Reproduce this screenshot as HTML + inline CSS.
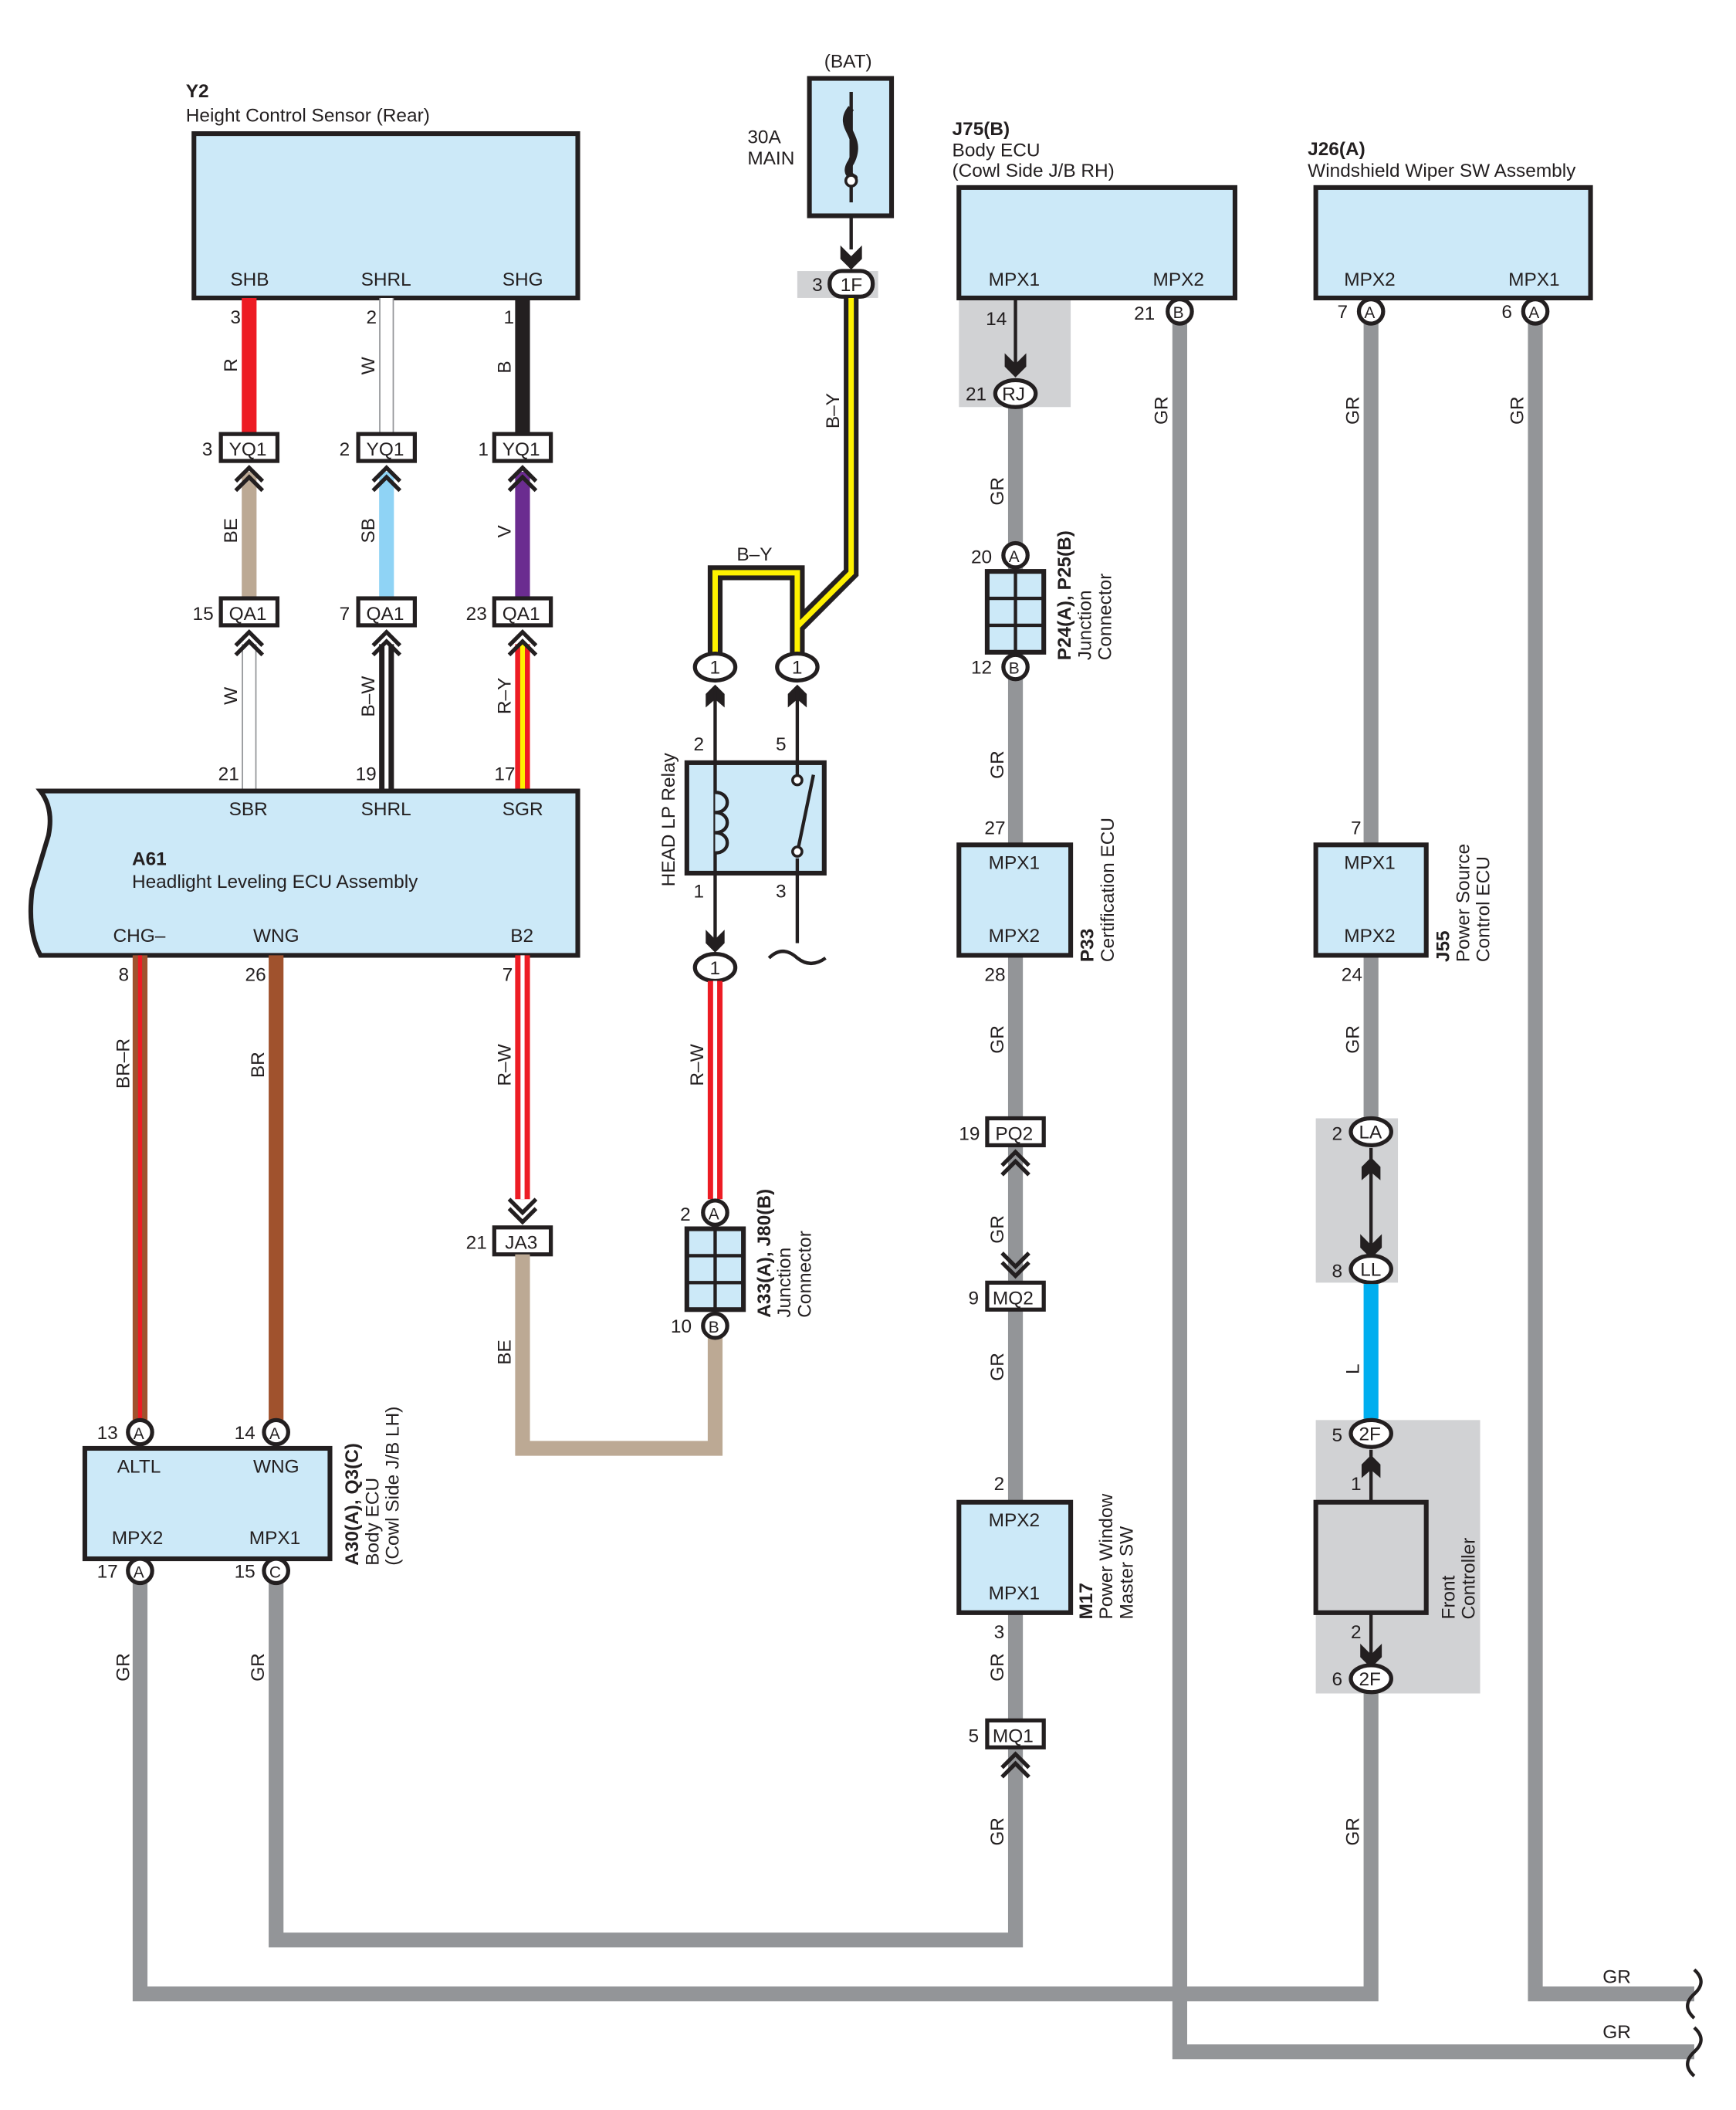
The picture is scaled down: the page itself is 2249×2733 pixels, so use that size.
<!DOCTYPE html>
<html><head><meta charset="utf-8"><style>
html,body{margin:0;padding:0;background:#fff}
svg{display:block}
text{font-family:"Liberation Sans",sans-serif;font-size:14px;fill:#231f20}
.b{font-weight:bold}
.box{fill:#cce9f8;stroke:#231f20;stroke-width:3.5}
.cn{fill:#fff;stroke:#231f20;stroke-width:3}
.gr{stroke:#939598;stroke-width:11;fill:none}
.ch{fill:none;stroke:#231f20;stroke-width:3}
</style></head><body>
<svg width="2249" height="2733" viewBox="0 0 1289 1566" xmlns="http://www.w3.org/2000/svg">
<!-- gray regions -->
<rect x="592" y="201" width="60" height="20" fill="#d1d2d4"/>
<rect x="712" y="221" width="83" height="81" fill="#d1d2d4"/>
<rect x="977" y="830" width="61" height="122" fill="#d1d2d4"/>
<rect x="977" y="1054" width="122" height="203" fill="#d1d2d4"/>

<!-- GR wires -->
<path class="gr" d="M754 300V1440H205V1170"/>
<path class="gr" d="M876 238V1523H1258"/>
<path class="gr" d="M104 1170V1480H1018V1250"/>
<path class="gr" d="M1018 238V835"/>
<path class="gr" d="M1140 238V1480H1258"/>
<path d="M1258 1462q10 9 0 18q-10 9 0 18" fill="none" stroke="#231f20" stroke-width="2.5"/>
<path d="M1258 1505q10 9 0 18q-10 9 0 18" fill="none" stroke="#231f20" stroke-width="2.5"/>
<text x="1190" y="1472">GR</text><text x="1190" y="1513">GR</text>

<!-- Y2 -->
<text x="138" y="72" class="b">Y2</text>
<text x="138" y="90">Height Control Sensor (Rear)</text>
<rect class="box" x="144" y="99" width="285" height="122"/>
<text x="171" y="212">SHB</text><text x="268" y="212">SHRL</text><text x="373" y="212">SHG</text>
<!-- wires top -->
<line x1="185" y1="221" x2="185" y2="322" stroke="#ed1c24" stroke-width="11"/>
<line x1="287" y1="221" x2="287" y2="322" stroke="#939598" stroke-width="11"/>
<line x1="287" y1="221" x2="287" y2="322" stroke="#fff" stroke-width="9"/>
<line x1="388" y1="221" x2="388" y2="322" stroke="#231f20" stroke-width="11"/>
<text x="171" y="240">3</text><text x="272" y="240">2</text><text x="374" y="240">1</text>
<text transform="translate(176,276) rotate(-90)">R</text>
<text transform="translate(278,278) rotate(-90)">W</text>
<text transform="translate(379,277) rotate(-90)">B</text>
<!-- middle wires -->
<line x1="185" y1="350" x2="185" y2="443" stroke="#bca994" stroke-width="11"/>
<line x1="287" y1="350" x2="287" y2="443" stroke="#8fd3f5" stroke-width="11"/>
<line x1="388" y1="350" x2="388" y2="443" stroke="#6b2c90" stroke-width="11"/>
<text transform="translate(176,403) rotate(-90)">BE</text>
<text transform="translate(278,403) rotate(-90)">SB</text>
<text transform="translate(379,399) rotate(-90)">V</text>
<!-- lower wires -->
<line x1="185" y1="478" x2="185" y2="587" stroke="#939598" stroke-width="11"/>
<line x1="185" y1="478" x2="185" y2="587" stroke="#fff" stroke-width="9"/>
<line x1="287" y1="478" x2="287" y2="587" stroke="#231f20" stroke-width="11"/>
<line x1="287" y1="478" x2="287" y2="587" stroke="#fff" stroke-width="3"/>
<line x1="388" y1="478" x2="388" y2="587" stroke="#ed1c24" stroke-width="11"/>
<line x1="388" y1="478" x2="388" y2="587" stroke="#fff200" stroke-width="3.5"/>
<text transform="translate(176,523) rotate(-90)">W</text>
<text transform="translate(278,532) rotate(-90)">B–W</text>
<text transform="translate(379,530) rotate(-90)">R–Y</text>
<text x="162" y="579">21</text><text x="264" y="579">19</text><text x="367" y="579">17</text>
<!-- YQ1/QA1 connectors -->
<g>
<rect class="cn" x="164" y="322" width="42" height="20"/><text x="170" y="338">YQ1</text><text x="150" y="338">3</text>
<rect class="cn" x="266" y="322" width="42" height="20"/><text x="272" y="338">YQ1</text><text x="252" y="338">2</text>
<rect class="cn" x="367" y="322" width="42" height="20"/><text x="373" y="338">YQ1</text><text x="355" y="338">1</text>
<rect class="cn" x="164" y="444" width="42" height="20"/><text x="170" y="460">QA1</text><text x="143" y="460">15</text>
<rect class="cn" x="266" y="444" width="42" height="20"/><text x="272" y="460">QA1</text><text x="252" y="460">7</text>
<rect class="cn" x="367" y="444" width="42" height="20"/><text x="373" y="460">QA1</text><text x="346" y="460">23</text>
</g>
<g class="ch">
<path d="M175 357l10-10l10 10M175 364l10-10l10 10"/>
<path d="M277 357l10-10l10 10M277 364l10-10l10 10"/>
<path d="M378 357l10-10l10 10M378 364l10-10l10 10"/>
<path d="M175 479l10-10l10 10M175 486l10-10l10 10"/>
<path d="M277 479l10-10l10 10M277 486l10-10l10 10"/>
<path d="M378 479l10-10l10 10M378 486l10-10l10 10"/>
</g>

<!-- A61 -->
<path class="box" d="M30 587H429V709H30Q20 690 24 660Q30 640 36 620Q40 600 30 587Z"/>
<text x="170" y="605">SBR</text><text x="268" y="605">SHRL</text><text x="373" y="605">SGR</text>
<text x="98" y="642" class="b">A61</text>
<text x="98" y="659">Headlight Leveling ECU Assembly</text>
<text x="84" y="699">CHG–</text><text x="188" y="699">WNG</text><text x="379" y="699">B2</text>
<text x="88" y="728">8</text><text x="182" y="728">26</text><text x="373" y="728">7</text>
<line x1="104" y1="709" x2="104" y2="1055" stroke="#a0522d" stroke-width="11"/>
<line x1="104" y1="709" x2="104" y2="1055" stroke="#ed1c24" stroke-width="3"/>
<line x1="205" y1="709" x2="205" y2="1055" stroke="#a0522d" stroke-width="11"/>
<line x1="388" y1="709" x2="388" y2="890" stroke="#ed1c24" stroke-width="11"/>
<line x1="388" y1="709" x2="388" y2="890" stroke="#fff" stroke-width="3"/>
<text transform="translate(96,808) rotate(-90)">BR–R</text>
<text transform="translate(196,800) rotate(-90)">BR</text>
<text transform="translate(379,806) rotate(-90)">R–W</text>
<path class="ch" d="M378 890l10 10l10-10M378 897l10 10l10-10"/>
<rect class="cn" x="367" y="911" width="42" height="20"/><text x="375" y="927">JA3</text><text x="346" y="927">21</text>
<path d="M388 931V1075H531V985" fill="none" stroke="#bca994" stroke-width="11"/>
<text transform="translate(379,1013) rotate(-90)">BE</text>

<!-- A30 -->
<circle class="cn" cx="104" cy="1063" r="9"/><text x="99" y="1068" style="font-size:12px">A</text><text x="72" y="1068">13</text>
<circle class="cn" cx="205" cy="1063" r="9"/><text x="200" y="1068" style="font-size:12px">A</text><text x="174" y="1068">14</text>
<rect class="box" x="63" y="1075" width="182" height="82"/>
<text x="87" y="1093">ALTL</text><text x="188" y="1093">WNG</text>
<text x="83" y="1146">MPX2</text><text x="185" y="1146">MPX1</text>
<circle class="cn" cx="104" cy="1166" r="9"/><text x="99" y="1171" style="font-size:12px">A</text><text x="72" y="1171">17</text>
<circle class="cn" cx="205" cy="1166" r="9"/><text x="200" y="1171" style="font-size:12px">C</text><text x="174" y="1171">15</text>
<text transform="translate(266,1162) rotate(-90)" class="b">A30(A), Q3(C)</text>
<text transform="translate(281,1162) rotate(-90)">Body ECU</text>
<text transform="translate(296,1162) rotate(-90)">(Cowl Side J/B LH)</text>
<text transform="translate(96,1248) rotate(-90)">GR</text>
<text transform="translate(196,1248) rotate(-90)">GR</text>

<!-- BAT fuse -->
<text x="612" y="50">(BAT)</text>
<text x="555" y="106">30A</text><text x="555" y="122">MAIN</text>
<rect class="box" x="601" y="58" width="61" height="102"/>
<line x1="632" y1="68" x2="632" y2="150" stroke="#231f20" stroke-width="2.5"/>
<path d="M632 80c-12 15 10 20 0 40c-8 12 8 12 0 12" fill="none" stroke="#231f20" stroke-width="5"/>
<circle cx="632" cy="134" r="4" fill="#fff" stroke="#231f20" stroke-width="2"/>
<line x1="632" y1="160" x2="632" y2="185" stroke="#231f20" stroke-width="2.5"/>
<path d="M624 182l8 8l8-8v10l-8 8l-8-8z" fill="#231f20"/>
<text x="603" y="216">3</text>
<rect class="cn" x="616" y="201" width="32" height="19" rx="9"/><text x="624" y="216">1F</text>
<!-- B-Y -->
<path d="M632 221V425L592 465V485M531 485V425H592V465" fill="none" stroke="#231f20" stroke-width="11" stroke-linejoin="miter"/>
<path d="M632 221V425L592 465V485M531 485V425H592V465" fill="none" stroke="#fff200" stroke-width="4" stroke-linejoin="miter"/>
<text transform="translate(623,318) rotate(-90)">B–Y</text>
<text x="547" y="416">B–Y</text>
<ellipse class="cn" cx="531" cy="495" rx="15" ry="10"/><text x="527" y="500">1</text>
<ellipse class="cn" cx="592" cy="495" rx="15" ry="10"/><text x="588" y="500">1</text>
<path d="M531 508l-7 7v10l7-6l7 6v-10z M592 508l-7 7v10l7-6l7 6v-10z" fill="#231f20"/>
<line x1="531" y1="512" x2="531" y2="700" stroke="#231f20" stroke-width="2.5"/>
<line x1="592" y1="512" x2="592" y2="700" stroke="#231f20" stroke-width="2.5"/>
<text x="515" y="557">2</text><text x="576" y="557">5</text>
<text transform="translate(501,658) rotate(-90)">HEAD LP Relay</text>
<rect class="box" x="510" y="566" width="102" height="82"/>
<line x1="531" y1="566" x2="531" y2="648" stroke="#231f20" stroke-width="2.5"/>
<path d="M531 588c12 0 12 15 0 15c12 0 12 15 0 15c12 0 12 15 0 15" fill="#cce9f8" stroke="#231f20" stroke-width="2.5"/>
<line x1="592" y1="566" x2="592" y2="648" stroke="#231f20" stroke-width="2.5"/>
<rect x="586" y="575" width="14" height="62" fill="#cce9f8"/>
<circle cx="592" cy="579" r="3.5" fill="#fff" stroke="#231f20" stroke-width="2"/>
<circle cx="592" cy="632" r="3.5" fill="#fff" stroke="#231f20" stroke-width="2"/>
<line x1="593" y1="628" x2="604" y2="575" stroke="#231f20" stroke-width="2.5"/>
<text x="515" y="666">1</text><text x="576" y="666">3</text>
<path d="M571 711q10-10 21 0q10 8 21 0" fill="none" stroke="#231f20" stroke-width="2.5"/>
<path d="M524 690l7 7l7-7v10l-7 7l-7-7z" fill="#231f20"/>
<ellipse class="cn" cx="531" cy="718" rx="15" ry="10"/><text x="527" y="723">1</text>
<line x1="531" y1="728" x2="531" y2="890" stroke="#ed1c24" stroke-width="11"/>
<line x1="531" y1="728" x2="531" y2="890" stroke="#fff" stroke-width="3"/>
<text transform="translate(522,806) rotate(-90)">R–W</text>
<!-- A33 junction -->
<text x="505" y="906">2</text>
<circle class="cn" cx="531" cy="900" r="9"/><text x="526" y="905" style="font-size:12px">A</text>
<rect class="box" x="510" y="912" width="42" height="60"/>
<path d="M510 932H552M510 952H552M531 912V972" stroke="#231f20" stroke-width="2.5"/>
<circle class="cn" cx="531" cy="984" r="9"/><text x="526" y="989" style="font-size:12px">B</text><text x="498" y="989">10</text>
<text transform="translate(572,978) rotate(-90)" class="b">A33(A), J80(B)</text>
<text transform="translate(587,978) rotate(-90)">Junction</text>
<text transform="translate(602,978) rotate(-90)">Connector</text>

<!-- J75 -->
<text x="707" y="100" class="b">J75(B)</text>
<text x="707" y="116">Body ECU</text><text x="707" y="131">(Cowl Side J/B RH)</text>
<rect class="box" x="712" y="139" width="205" height="82"/>
<text x="734" y="212">MPX1</text><text x="856" y="212">MPX2</text>
<text x="732" y="241">14</text>
<line x1="754" y1="221" x2="754" y2="275" stroke="#231f20" stroke-width="2.5"/>
<path d="M746 262l8 8l8-8v10l-8 8l-8-8z" fill="#231f20"/>
<text x="717" y="297">21</text>
<ellipse class="cn" cx="754" cy="292" rx="15" ry="10"/><text x="744" y="297">RJ</text>
<text x="842" y="237">21</text>
<circle class="cn" cx="876" cy="231" r="9"/><text x="871" y="236" style="font-size:12px">B</text>
<text transform="translate(867,315) rotate(-90)">GR</text>
<text transform="translate(745,375) rotate(-90)">GR</text>
<text x="721" y="418">20</text>
<circle class="cn" cx="754" cy="412" r="9"/><text x="749" y="417" style="font-size:12px">A</text>
<rect class="box" x="733" y="424" width="42" height="60"/>
<path d="M733 444H775M733 464H775M754 424V484" stroke="#231f20" stroke-width="2.5"/>
<circle class="cn" cx="754" cy="495" r="9"/><text x="749" y="500" style="font-size:12px">B</text><text x="721" y="500">12</text>
<text transform="translate(795,490) rotate(-90)" class="b">P24(A), P25(B)</text>
<text transform="translate(810,490) rotate(-90)">Junction</text>
<text transform="translate(825,490) rotate(-90)">Connector</text>
<text transform="translate(745,578) rotate(-90)">GR</text>
<text x="731" y="619">27</text>
<rect class="box" x="712" y="627" width="83" height="82"/>
<text x="734" y="645">MPX1</text><text x="734" y="699">MPX2</text>
<text x="731" y="728">28</text>
<text transform="translate(812,714) rotate(-90)" class="b">P33</text>
<text transform="translate(827,714) rotate(-90)">Certification ECU</text>
<text transform="translate(745,782) rotate(-90)">GR</text>
<rect class="cn" x="733" y="830" width="42" height="20"/><text x="739" y="846">PQ2</text><text x="712" y="846">19</text>
<path class="ch" d="M744 865l10-10l10 10M744 872l10-10l10 10"/>
<text transform="translate(745,923) rotate(-90)">GR</text>
<path class="ch" d="M744 930l10 10l10-10M744 937l10 10l10-10"/>
<rect class="cn" x="733" y="952" width="42" height="20"/><text x="737" y="968">MQ2</text><text x="719" y="968">9</text>
<text transform="translate(745,1025) rotate(-90)">GR</text>
<text x="738" y="1106">2</text>
<rect class="box" x="712" y="1115" width="83" height="82"/>
<text x="734" y="1133">MPX2</text><text x="734" y="1187">MPX1</text>
<text x="738" y="1216">3</text>
<text transform="translate(811,1202) rotate(-90)" class="b">M17</text>
<text transform="translate(826,1202) rotate(-90)">Power Window</text>
<text transform="translate(841,1202) rotate(-90)">Master SW</text>
<text transform="translate(745,1248) rotate(-90)">GR</text>
<rect class="cn" x="733" y="1277" width="42" height="20"/><text x="737" y="1293">MQ1</text><text x="719" y="1293">5</text>
<path class="ch" d="M744 1312l10-10l10 10M744 1319l10-10l10 10"/>
<text transform="translate(745,1370) rotate(-90)">GR</text>

<!-- J26 -->
<text x="971" y="115" class="b">J26(A)</text>
<text x="971" y="131">Windshield Wiper SW Assembly</text>
<rect class="box" x="977" y="139" width="204" height="82"/>
<text x="998" y="212">MPX2</text><text x="1120" y="212">MPX1</text>
<circle class="cn" cx="1018" cy="231" r="9"/><text x="1013" y="236" style="font-size:12px">A</text><text x="993" y="236">7</text>
<circle class="cn" cx="1140" cy="231" r="9"/><text x="1135" y="236" style="font-size:12px">A</text><text x="1115" y="236">6</text>
<text transform="translate(1009,315) rotate(-90)">GR</text>
<text transform="translate(1131,315) rotate(-90)">GR</text>
<text x="1003" y="619">7</text>
<rect class="box" x="977" y="627" width="82" height="82"/>
<text x="998" y="645">MPX1</text><text x="998" y="699">MPX2</text>
<text x="996" y="728">24</text>
<text transform="translate(1076,714) rotate(-90)" class="b">J55</text>
<text transform="translate(1091,714) rotate(-90)">Power Source</text>
<text transform="translate(1106,714) rotate(-90)">Control ECU</text>
<text transform="translate(1009,782) rotate(-90)">GR</text>
<text x="989" y="846">2</text>
<ellipse class="cn" cx="1018" cy="840" rx="15" ry="10"/><text x="1009" y="845">LA</text>
<line x1="1018" y1="852" x2="1018" y2="930" stroke="#231f20" stroke-width="2.5"/>
<path d="M1011 866l7-7l7 7v10l-7-6l-7 6z M1010 916l8 8l8-8v10l-8 8l-8-8z" fill="#231f20"/>
<text x="989" y="948">8</text>
<ellipse class="cn" cx="1018" cy="942" rx="15" ry="10"/><text x="1010" y="947">LL</text>
<line x1="1018" y1="953" x2="1018" y2="1053" stroke="#00aeef" stroke-width="11"/>
<text transform="translate(1009,1020) rotate(-90)">L</text>
<text x="989" y="1070">5</text>
<ellipse class="cn" cx="1018" cy="1064" rx="15" ry="10"/><text x="1009" y="1069">2F</text>
<line x1="1018" y1="1076" x2="1018" y2="1240" stroke="#231f20" stroke-width="2.5"/>
<path d="M1011 1087l7-7l7 7v10l-7-6l-7 6z" fill="#231f20"/>
<text x="1003" y="1106">1</text>
<rect x="977" y="1115" width="82" height="82" fill="#d1d2d4" stroke="#231f20" stroke-width="3.5"/>
<text x="1003" y="1216">2</text>
<path d="M1010 1220l8 8l8-8v10l-8 8l-8-8z" fill="#231f20"/>
<ellipse class="cn" cx="1018" cy="1246" rx="15" ry="10"/><text x="1009" y="1251">2F</text>
<text x="989" y="1251">6</text>
<text transform="translate(1080,1202) rotate(-90)">Front</text>
<text transform="translate(1095,1202) rotate(-90)">Controller</text>
<text transform="translate(1009,1370) rotate(-90)">GR</text>
</svg>
</body></html>
